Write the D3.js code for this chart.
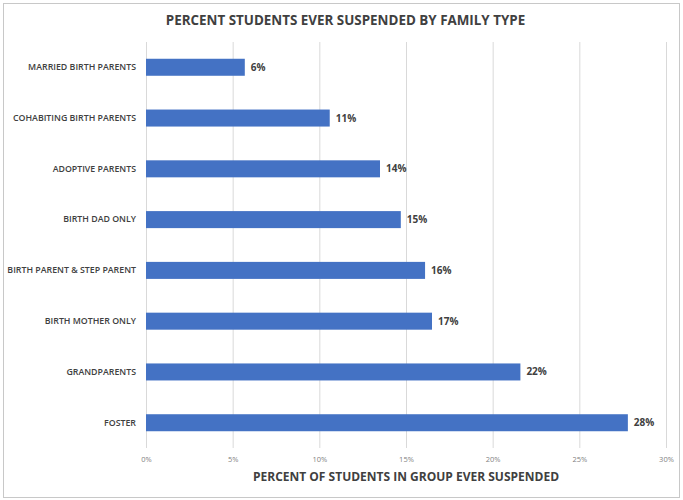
<!DOCTYPE html>
<html>
<head>
<meta charset="utf-8">
<script src="https://cdn.jsdelivr.net/npm/d3@7"></script>
<style>
  body { margin: 0; background: #fff; }
  text { font-family: 'Open Sans', 'Noto Sans', sans-serif; }
</style>
</head>
<body>
<div id="chart"></div>
<script>

// Data
const categories = [
  'MARRIED BIRTH PARENTS',
  'COHABITING BIRTH PARENTS',
  'ADOPTIVE PARENTS',
  'BIRTH DAD ONLY',
  'BIRTH PARENT & STEP PARENT',
  'BIRTH MOTHER ONLY',
  'GRANDPARENTS',
  'FOSTER'
];
const values = [0.057, 0.106, 0.135, 0.147, 0.161, 0.165, 0.216, 0.278];
const xTicks = [0, 0.05, 0.10, 0.15, 0.20, 0.25, 0.30];

const chartTitle = 'PERCENT STUDENTS EVER SUSPENDED BY FAMILY TYPE';
const xTitle = 'PERCENT OF STUDENTS IN GROUP EVER SUSPENDED';

// Page dimensions
const W = 683, H = 500;
const margin = {top: 42, right: 17, bottom: 52, left: 146};
const width = W - margin.left - margin.right;
const height = H - margin.top - margin.bottom;

const barColor = '#4472c4';
const textColor = '#404040';
const gridColor = '#d9d9d9';

const svg = d3.select('#chart').append('svg')
  .attr('width', W)
  .attr('height', H);

// chart frame
svg.append('rect')
  .attr('x', 3.5).attr('y', 3.5)
  .attr('width', W - 7).attr('height', H - 6)
  .attr('fill', 'none')
  .attr('stroke', '#c8c8c8');

const g = svg.append('g')
  .attr('transform', `translate(${margin.left},${margin.top})`);

const x = d3.scaleLinear().domain([0, 0.30]).range([0, width]);
const y = d3.scaleBand().domain(categories).range([0, height]).paddingInner(0.665).paddingOuter(0.33);

// Gridlines
g.append('g')
  .selectAll('line')
  .data(xTicks)
  .join('line')
  .attr('x1', d => x(d) + 0.5).attr('x2', d => x(d) + 0.5)
  .attr('y1', 0).attr('y2', height)
  .attr('stroke', gridColor);

// x axis tick labels
const xAxis = g.append('g')
  .attr('transform', `translate(0,${height})`)
  .call(d3.axisBottom(x).tickValues(xTicks).tickFormat(d3.format('.0%')).tickSize(0).tickPadding(9));
xAxis.select('.domain').remove();
xAxis.selectAll('text')
  .attr('fill', '#7f7f7f')
  .style('font-size', '7.5px')
  .style('font-family', "'Open Sans', sans-serif");

// y axis category labels
const yAxis = g.append('g')
  .call(d3.axisLeft(y).tickSize(0).tickPadding(10));
yAxis.select('.domain').remove();
yAxis.selectAll('text')
  .attr('fill', textColor)
  .style('font-size', '8.8px')
  .style('font-weight', '600')
  .style('font-family', "'Open Sans', sans-serif");

// Bars
g.append('g')
  .selectAll('rect')
  .data(values)
  .join('rect')
  .attr('x', x(0))
  .attr('y', (d, i) => y(categories[i]))
  .attr('width', d => x(d) - x(0))
  .attr('height', y.bandwidth())
  .attr('fill', barColor);

// Data labels
g.append('g')
  .selectAll('text')
  .data(values)
  .join('text')
  .attr('x', d => x(d) + 6)
  .attr('y', (d, i) => y(categories[i]) + y.bandwidth() / 2)
  .attr('dy', '0.35em')
  .attr('fill', textColor)
  .style('font-size', '10px')
  .style('font-weight', '700')
  .text(d => d3.format('.0%')(d));

// Titles
svg.append('text')
  .attr('x', W / 2 + 4)
  .attr('y', 25)
  .attr('text-anchor', 'middle')
  .attr('fill', textColor)
  .style('font-size', '13.4px')
  .style('font-weight', '700')
  .text(chartTitle);

svg.append('text')
  .attr('x', margin.left + width / 2)
  .attr('y', 481)
  .attr('text-anchor', 'middle')
  .attr('fill', textColor)
  .style('font-size', '12px')
  .style('font-weight', '700')
  .text(xTitle);

</script>
</body>
</html>
